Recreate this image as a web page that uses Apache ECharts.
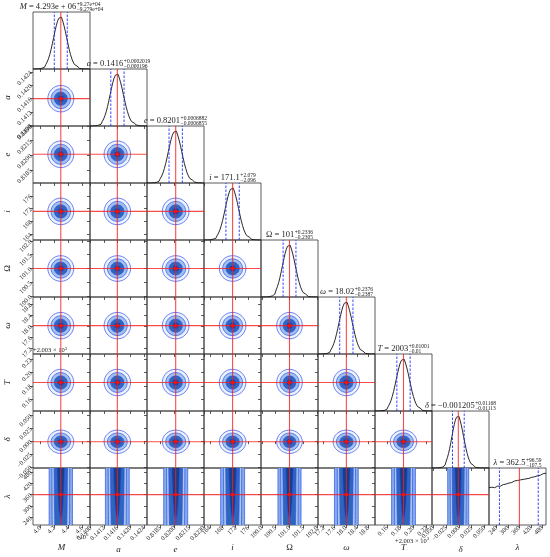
<!DOCTYPE html>
<html><head><meta charset="utf-8">
<script src="https://cdn.jsdelivr.net/npm/echarts@6/dist/echarts.min.js"></script>
<style>html,body{margin:0;padding:0;background:#fff}#c{width:550px;height:557px}</style>
</head><body><div id="c"></div><script>
// ---------------- data ----------------
const paramNames  = ['M', 'a', 'e', 'i', 'Ω', 'ω', 'T', 'δ', 'λ'];
const paramItalic = [true, true, true, true, false, true, true, true, true];
// M in units of 1e6, T as offset from 2003
const medians  = [4.293, 0.1416, 0.8201, 171.1, 101.0, 18.02, 0.185, -0.001205, 362.5];
const errPlus  = [0.0927, 0.0002019, 0.0006882, 2.079, 0.2336, 0.2376, 0.01001, 0.01168, 96.59];
const errMinus = [0.09279, 0.000196, 0.0006855, 2.096, 0.2305, 0.2387, 0.01, 0.01113, 107.5];
const truths   = [4.293, 0.1416, 0.8201, 171.1, 101.0, 18.02, 0.185, -0.001, 360];
const axisMin  = [3.896, 0.14078, 0.81715, 162.13, 99.97, 17.0, 0.142, -0.0523, 200];
const axisMax  = [4.710, 0.14249, 0.82301, 180.0, 102.03, 19.05, 0.228, 0.0588, 500];
const tickVals = [
  [4.0, 4.2, 4.4, 4.6],
  [0.1408, 0.1412, 0.1416, 0.1420, 0.1424],
  [0.8185, 0.8200, 0.8215, 0.8230],
  [164, 168, 172, 176],
  [100.0, 100.5, 101.0, 101.5, 102.0],
  [17.2, 17.6, 18.0, 18.4, 18.8],
  [0.16, 0.18, 0.20, 0.22],
  [-0.050, -0.025, 0.000, 0.025, 0.050],
  [240, 300, 360, 420, 480]
];
const tickText = [
  ['4.0', '4.2', '4.4', '4.6'],
  ['0.1408', '0.1412', '0.1416', '0.1420', '0.1424'],
  ['0.8185', '0.8200', '0.8215', '0.8230'],
  ['164', '168', '172', '176'],
  ['100.0', '100.5', '101.0', '101.5', '102.0'],
  ['17.2', '17.6', '18.0', '18.4', '18.8'],
  ['0.16', '0.18', '0.20', '0.22'],
  ['−0.050', '−0.025', '0.000', '0.025', '0.050'],
  ['240', '300', '360', '420', '480']
];
const titleMain = ['4.293e + 06', '0.1416', '0.8201', '171.1', '101', '18.02', '2003', '−0.001205', '362.5'];
const titleSup  = ['+9.27e+04', '+0.0002019', '+0.0006882', '+2.079', '+0.2336', '+0.2376', '+0.01001', '+0.01168', '+96.59'];
const titleSub  = ['−9.279e+04', '−0.000196', '−0.0006855', '−2.096', '−0.2305', '−0.2387', '−0.01', '−0.01113', '−107.5'];

// marginal histogram shape (relative height) at offsets of -4..4 sigma, step 0.2 sigma
const histZ = [-4.0,-3.8,-3.6,-3.4,-3.2,-3.0,-2.8,-2.6,-2.4,-2.2,-2.0,-1.8,-1.6,-1.4,-1.2,-1.0,-0.8,-0.6,-0.4,-0.2,0,
               0.2,0.4,0.6,0.8,1.0,1.2,1.4,1.6,1.8,2.0,2.2,2.4,2.6,2.8,3.0,3.2,3.4,3.6,3.8,4.0];
const histShape = [0.000,0.001,0.002,0.003,0.006,0.011,0.020,0.034,0.056,0.089,0.135,0.198,0.278,0.375,0.487,0.607,0.726,0.835,0.923,0.980,1.000,
                   0.978,0.925,0.833,0.728,0.605,0.489,0.373,0.280,0.196,0.136,0.088,0.057,0.033,0.021,0.011,0.005,0.003,0.002,0.001,0.000];
// lambda marginal, bins of width 10 from 200 to 500
const lambdaBinCenters = [205,215,225,235,245,255,265,275,285,295,305,315,325,335,345,355,365,375,385,395,405,415,425,435,445,455,465,475,485,495];
const lambdaHist = [0.72,0.73,0.72,0.74,0.75,0.75,0.77,0.78,0.79,0.80,0.81,0.82,0.83,0.85,0.86,0.86,0.87,0.88,0.88,0.89,0.90,0.91,0.92,0.93,0.93,0.95,0.96,0.97,0.99,1.00];

// 2-D contour levels (in sigma), outer to inner
const contourLevels = [2.0, 1.5, 1.0, 0.5];
const contourFills  = ['#eef3fb', '#9ec0ea', '#2f66b8', '#174593'];
// lambda-row bands: half-widths (in sigma of the other parameter) along lambda
const lamBandGrid  = [190, 230, 250, 280, 320, 360, 400, 450, 510];
const lamBandWidth = [
  [1.80, 1.80, 1.80, 1.80, 1.80, 1.80, 1.80, 1.80, 1.80],
  [1.33, 1.33, 1.34, 1.35, 1.35, 1.36, 1.36, 1.37, 1.38],
  [0.92, 0.94, 0.95, 0.97, 0.98, 1.00, 1.00, 1.02, 1.04],
  [0.00, 0.03, 0.20, 0.32, 0.40, 0.46, 0.50, 0.55, 0.60]
];
const lamBandFills = ['#86ade2', '#a9c8ec', '#2f66b8', '#163f8a'];

// ---------------- layout ----------------
const N = 9, L0 = 33, T0 = 12, S = 57;
const RED = 'rgba(245,30,30,0.8)';
const BLUE_LINE = '#3050f5';
const SERIF = '"Liberation Serif", "DejaVu Serif", serif';
const sig = p => (errPlus[p] + errMinus[p]) / 2;
const fmt = p => v => {
  let best = 0, d = Infinity;
  tickVals[p].forEach((t, i) => { const dd = Math.abs(t - v); if (dd < d) { d = dd; best = i; } });
  return tickText[p][best];
};

const grids = [], xAxes = [], yAxes = [], series = [];

function addAxes(row, col, diag) {
  const gi = grids.length;
  grids.push({left: L0 + S * col, top: T0 + S * row, width: S, height: S, show: true,
    borderColor: '#333', borderWidth: 0.8, backgroundColor: 'rgba(0,0,0,0)',
    containLabel: false, outerBoundsMode: 'none'});
  const bottom = row === N - 1;
  xAxes.push({gridIndex: gi, type: 'value', min: axisMin[col], max: axisMax[col],
    axisLine: {show: false}, splitLine: {show: false},
    axisTick: {show: true, inside: false, length: 3, lineStyle: {color: '#333', width: 0.8}, customValues: tickVals[col]},
    axisLabel: {show: bottom, customValues: tickVals[col], rotate: 45, fontSize: 6.5, margin: 2,
      fontFamily: SERIF, color: '#222', formatter: fmt(col)},
    name: bottom ? paramNames[col] : '', nameLocation: 'middle', nameGap: 18,
    nameTextStyle: {fontFamily: SERIF, fontSize: 9, fontStyle: paramItalic[col] ? 'italic' : 'normal', color: '#222'}});
  if (diag) {
    yAxes.push({gridIndex: gi, type: 'value', min: 0, max: 1.1, show: true,
      axisLine: {show: false}, splitLine: {show: false}, axisTick: {show: false}, axisLabel: {show: false}});
  } else {
    const left = col === 0;
    yAxes.push({gridIndex: gi, type: 'value', min: axisMin[row], max: axisMax[row],
      axisLine: {show: false}, splitLine: {show: false},
      axisTick: {show: true, inside: false, length: 3, lineStyle: {color: '#333', width: 0.8}, customValues: tickVals[row]},
      axisLabel: {show: left, customValues: tickVals[row], rotate: 45, fontSize: 6.5, margin: 2,
        fontFamily: SERIF, color: '#222', formatter: fmt(row)},
      name: left ? paramNames[row] : '', nameLocation: 'middle', nameGap: 21,
      nameTextStyle: {fontFamily: SERIF, fontSize: 9, fontStyle: paramItalic[row] ? 'italic' : 'normal', color: '#222'}});
  }
  return gi;
}

for (let row = 0; row < N; row++) {
  for (let col = 0; col <= row; col++) {
    const diag = row === col;
    const gi = addAxes(row, col, diag);
    if (diag) {
      let data;
      if (col === N - 1) {
        data = [[axisMin[col], lambdaHist[0]]].concat(lambdaBinCenters.map((c, k) => [c, lambdaHist[k]]), [[axisMax[col], lambdaHist[lambdaHist.length - 1]]]);
      } else {
        data = [[axisMin[col], 0]].concat(histZ.map((z, k) => [medians[col] + z * (z < 0 ? errMinus[col] : errPlus[col]), histShape[k]]), [[axisMax[col], 0]]);
      }
      series.push({type: 'line', xAxisIndex: gi, yAxisIndex: gi, data, step: 'middle', showSymbol: false, symbol: 'none',
        clip: true, silent: true, z: 2, lineStyle: {color: '#111', width: 0.9}});
      // quantile (dashed blue) and truth (red) vertical lines
      series.push({type: 'custom', xAxisIndex: gi, yAxisIndex: gi, clip: true, silent: true, z: 3,
        data: [[medians[col] - errMinus[col], 0], [medians[col] + errPlus[col], 0], [truths[col], 1]],
        renderItem: (params, api) => {
          const x = api.value(0), kind = api.value(1);
          const p1 = api.coord([x, 0]), p2 = api.coord([x, 1.1]);
          return {type: 'line', shape: {x1: p1[0], y1: p1[1], x2: p2[0], y2: p2[1]},
            style: kind === 1 ? {stroke: RED, lineWidth: 1.1} : {stroke: '#2233ff', lineWidth: 0.9, lineDash: [2.5, 1.5]}};
        }});
    } else {
      const r = row, c = col;
      series.push({type: 'custom', xAxisIndex: gi, yAxisIndex: gi, clip: true, silent: true,
        data: [[medians[c], medians[r]]],
        renderItem: (params, api) => {
          const children = [];
          const sx = sig(c), sy = sig(r);
          const ctr = api.coord([api.value(0), api.value(1)]);
          if (r === N - 1) {
            lamBandWidth.forEach((w, j) => {
              const pts = [];
              for (let q = 0; q < lamBandGrid.length; q++) pts.push(api.coord([medians[c] - w[q] * sx, lamBandGrid[q]]));
              for (let q = lamBandGrid.length - 1; q >= 0; q--) pts.push(api.coord([medians[c] + w[q] * sx, lamBandGrid[q]]));
              children.push({type: 'polygon', shape: {points: pts}, style: {fill: lamBandFills[j], stroke: BLUE_LINE, lineWidth: 0.7}});
            });
          } else {
            contourLevels.forEach((k, j) => {
              const p = api.coord([medians[c] + k * sx, medians[r] + k * sy]);
              children.push({type: 'ellipse', shape: {cx: ctr[0], cy: ctr[1], rx: Math.abs(p[0] - ctr[0]), ry: Math.abs(ctr[1] - p[1])},
                style: {fill: contourFills[j], stroke: BLUE_LINE, lineWidth: 0.7}});
            });
          }
          const v1 = api.coord([truths[c], axisMin[r]]), v2 = api.coord([truths[c], axisMax[r]]);
          const h1 = api.coord([axisMin[c], truths[r]]), h2 = api.coord([axisMax[c], truths[r]]);
          children.push({type: 'line', shape: {x1: v1[0], y1: v1[1], x2: v2[0], y2: v2[1]}, style: {stroke: RED, lineWidth: 1.1}});
          children.push({type: 'line', shape: {x1: h1[0], y1: h1[1], x2: h2[0], y2: h2[1]}, style: {stroke: RED, lineWidth: 1.1}});
          const t = api.coord([truths[c], truths[r]]);
          children.push({type: 'circle', shape: {cx: t[0], cy: t[1], r: 2}, style: {fill: '#f01010'}});
          return {type: 'group', children};
        }});
    }
  }
}

// ---------------- titles & offset texts ----------------
const mctx = document.createElement('canvas').getContext('2d');
const tw = (t, f) => { mctx.font = f; return mctx.measureText(t).width; };
const F_MAIN = `8.5px ${SERIF}`, F_IT = `italic 8.5px ${SERIF}`, F_SCR = `5.5px ${SERIF}`, F_OFF = `6.5px ${SERIF}`, F_OFFS = `4.8px ${SERIF}`;
const graphics = [];
function txt(x, y, text, font, align) {
  graphics.push({type: 'text', x, y, silent: true,
    style: {text, font, fill: '#222', textAlign: align || 'left', align: align || 'left', textVerticalAlign: 'middle', verticalAlign: 'middle'}});
}
for (let k = 0; k < N; k++) {
  const cx = L0 + S * k + S / 2, top = T0 + S * k;
  const fv = paramItalic[k] ? F_IT : F_MAIN;
  const rest = ' = ' + titleMain[k];
  const w1 = tw(paramNames[k], fv), w2 = tw(rest, F_MAIN);
  const w3 = Math.max(tw(titleSup[k], F_SCR), tw(titleSub[k], F_SCR));
  const x0 = cx - (w1 + w2 + w3 + 0.5) / 2;
  txt(x0, top - 4.8, paramNames[k], fv);
  txt(x0 + w1, top - 4.8, rest, F_MAIN);
  txt(x0 + w1 + w2 + 0.5, top - 7.6, titleSup[k], F_SCR);
  txt(x0 + w1 + w2 + 0.5, top - 2.6, titleSub[k], F_SCR);
}
// x-offset for M (×10^6)
{
  const w = tw('×10', F_OFF);
  txt(89 - w - 3, 537, '×10', F_OFF);
  txt(89 - 3, 535, '6', F_OFFS);
}
// x-offset for T (+2.003×10^3), bottom
{
  const s = '+2.003 × 10', w = tw(s, F_OFF);
  txt(395, 541, s, F_OFF);
  txt(395 + w, 539, '3', F_OFFS);
}
// y-offset for T row
{
  const s = '+2.003 × 10', w = tw(s, F_OFF);
  txt(33, 350.5, s, F_OFF);
  txt(33 + w, 348.5, '3', F_OFFS);
}

const chart = echarts.init(document.getElementById('c'), null, {renderer: 'canvas'});
chart.setOption({
  animation: false,
  backgroundColor: '#fff',
  grid: grids, xAxis: xAxes, yAxis: yAxes, series,
  graphic: {elements: graphics}
});
</script></body></html>
